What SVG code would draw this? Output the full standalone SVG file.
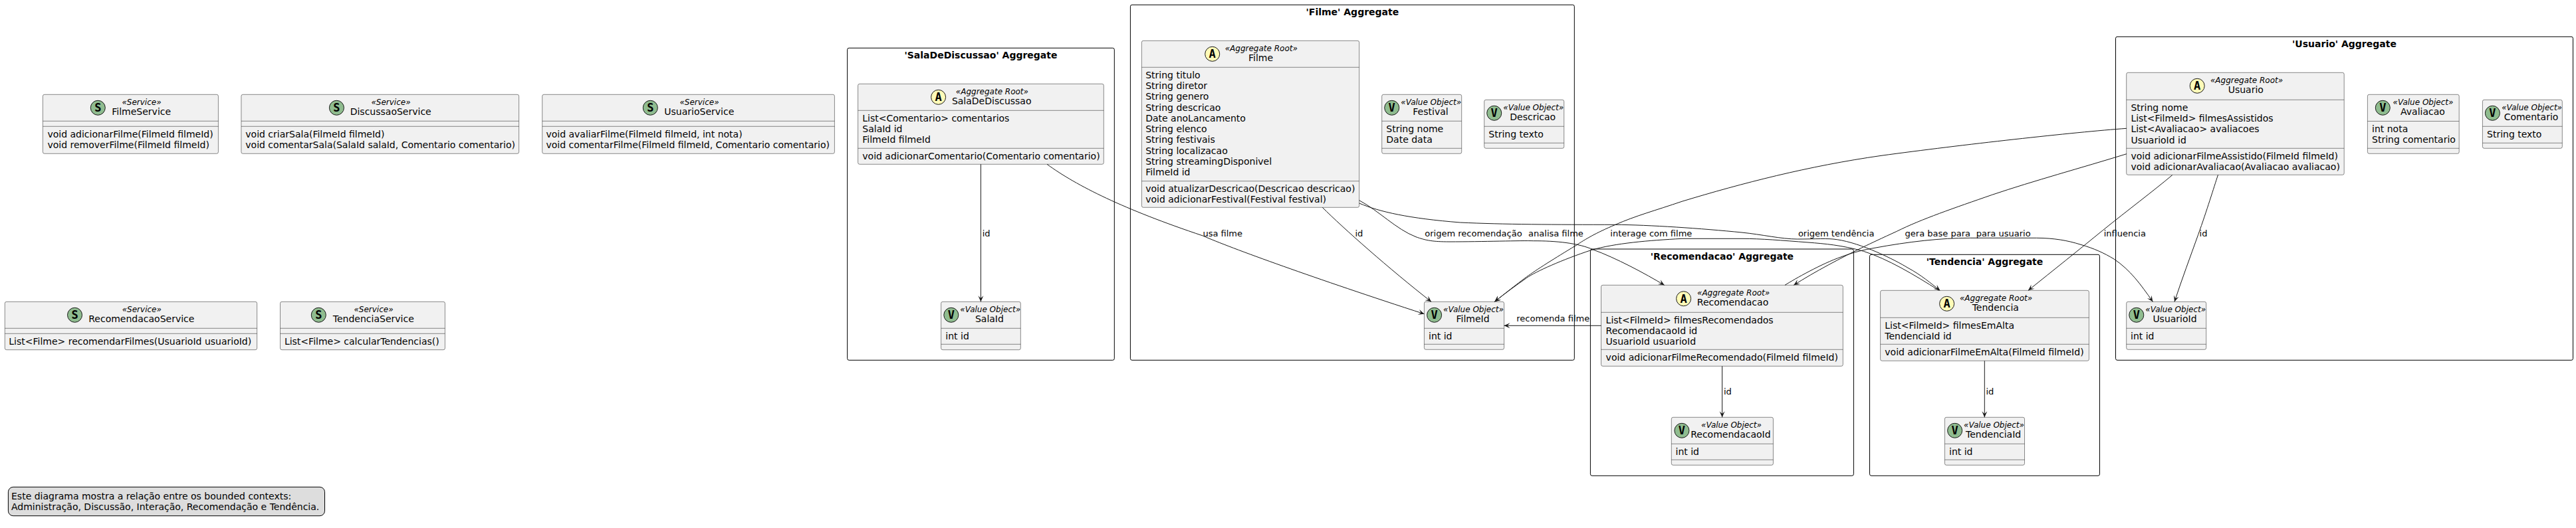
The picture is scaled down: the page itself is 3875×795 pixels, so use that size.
<svg xmlns="http://www.w3.org/2000/svg" width="3875" height="795" viewBox="0 0 3875 795">
<style>
text{font-family:"DejaVu Sans",sans-serif;fill:#000}
.b{fill:#F1F1F1;stroke:#181818;stroke-width:.5}
.d{stroke:#181818;stroke-width:.5}
.t{font-size:14px}
.s{font-size:12px;font-style:italic;text-anchor:middle}
.n{font-size:14px;text-anchor:middle}
.g{fill:#8FBC8F;stroke:#181818;stroke-width:1}
.y{fill:#FFFBB8;stroke:#181818;stroke-width:1}
.l{font-family:"DejaVu Sans Mono",monospace;font-weight:bold;font-size:17px;text-anchor:middle}
.f{fill:none;stroke:#000;stroke-width:1}
.h{font-size:14px;font-weight:bold;text-anchor:middle}
.e{fill:none;stroke:#181818;stroke-width:1;marker-end:url(#arr)}
.k{font-size:13px}
</style>
<defs>
<marker id="arr" markerUnits="userSpaceOnUse" markerWidth="12" markerHeight="12" refX="10" refY="6" orient="auto">
<path d="M10 6 L1 2 L5 6 L1 10 Z" fill="#181818"/>
</marker>
</defs>
<rect width="3875" height="795" fill="#fff"/>

<g id="frame-sala"><rect class="f" x="1274.6" y="72.3" width="401.7" height="470" rx="2.5"/><text class="h" x="1475.5" y="88">'SalaDeDiscussao' Aggregate</text></g>
<g id="frame-filme"><rect class="f" x="1700.4" y="7.3" width="667.9" height="535" rx="2.5"/><text class="h" x="2034.4" y="23.3">'Filme' Aggregate</text></g>
<g id="frame-recomendacao"><rect class="f" x="2392.4" y="375" width="396" height="341.3" rx="2.5"/><text class="h" x="2590.4" y="391">'Recomendacao' Aggregate</text></g>
<g id="frame-tendencia"><rect class="f" x="2812.5" y="383.3" width="346" height="333" rx="2.5"/><text class="h" x="2985.5" y="399.3">'Tendencia' Aggregate</text></g>
<g id="frame-usuario"><rect class="f" x="3182.5" y="55.3" width="688" height="487" rx="2.5"/><text class="h" x="3526.5" y="71.3">'Usuario' Aggregate</text></g>

<g id="FilmeService">
<rect class="b" x="64.4" y="142.3" width="264" height="89" rx="2.5"/>
<path class="d" d="M64.4 182.3H328.4M64.4 190.3H328.4"/>
<ellipse class="g" cx="147.3" cy="162.3" rx="11" ry="11"/><text class="l" x="147.3" y="168.3">S</text>
<text class="s" x="213" y="158.1">«Service»</text><text class="n" x="212.7" y="173.3">FilmeService</text>
<text class="t" x="71.4" y="206.6">void adicionarFilme(FilmeId filmeId)</text>
<text class="t" x="71.4" y="222.9">void removerFilme(FilmeId filmeId)</text>
</g>
<g id="DiscussaoService">
<rect class="b" x="362.9" y="142.3" width="417.7" height="89" rx="2.5"/>
<path class="d" d="M362.9 182.3H780.6M362.9 190.3H780.6"/>
<ellipse class="g" cx="506.4" cy="162.3" rx="11" ry="11"/><text class="l" x="506.4" y="168.3">S</text>
<text class="s" x="588" y="158.1">«Service»</text><text class="n" x="587.7" y="173.3">DiscussaoService</text>
<text class="t" x="369.3" y="206.6">void criarSala(FilmeId filmeId)</text>
<text class="t" x="369.3" y="222.9">void comentarSala(SalaId salaId, Comentario comentario)</text>
</g>
<g id="UsuarioService">
<rect class="b" x="815.7" y="142.3" width="439.7" height="89" rx="2.5"/>
<path class="d" d="M815.7 182.3H1255.4M815.7 190.3H1255.4"/>
<ellipse class="g" cx="978.3" cy="162.3" rx="11" ry="11"/><text class="l" x="978.3" y="168.3">S</text>
<text class="s" x="1052" y="158.1">«Service»</text><text class="n" x="1051.8" y="173.3">UsuarioService</text>
<text class="t" x="821.4" y="206.6">void avaliarFilme(FilmeId filmeId, int nota)</text>
<text class="t" x="821.4" y="222.9">void comentarFilme(FilmeId filmeId, Comentario comentario)</text>
</g>
<g id="RecomendacaoService">
<rect class="b" x="7.3" y="454.3" width="379.3" height="72.4" rx="2.5"/>
<path class="d" d="M7.3 494.3H386.6M7.3 502.3H386.6"/>
<ellipse class="g" cx="112.5" cy="474.3" rx="11" ry="11"/><text class="l" x="112.5" y="480.3">S</text>
<text class="s" x="213.3" y="470.1">«Service»</text><text class="n" x="212.8" y="485.3">RecomendacaoService</text>
<text class="t" x="13.3" y="518.6">List&lt;Filme&gt; recomendarFilmes(UsuarioId usuarioId)</text>
</g>
<g id="TendenciaService">
<rect class="b" x="421.5" y="454.3" width="247.9" height="72.4" rx="2.5"/>
<path class="d" d="M421.5 494.3H669.4M421.5 502.3H669.4"/>
<ellipse class="g" cx="479.3" cy="474.3" rx="11" ry="11"/><text class="l" x="479.3" y="480.3">S</text>
<text class="s" x="562" y="470.1">«Service»</text><text class="n" x="561.8" y="485.3">TendenciaService</text>
<text class="t" x="427.9" y="518.6">List&lt;Filme&gt; calcularTendencias()</text>
</g>

<g id="SalaDeDiscussao">
<rect class="b" x="1290.6" y="126.3" width="369.7" height="121" rx="2.5"/>
<path class="d" d="M1290.6 166.3H1660.3M1290.6 223.3H1660.3"/>
<ellipse class="y" cx="1411.6" cy="146.3" rx="11" ry="11"/><text class="l" x="1411.6" y="152.3">A</text>
<text class="s" x="1492.4" y="142.1">«Aggregate Root»</text><text class="n" x="1491.7" y="157.3">SalaDeDiscussao</text>
<text class="t" x="1297.3" y="182.6">List&lt;Comentario&gt; comentarios</text>
<text class="t" x="1297.3" y="198.9">SalaId id</text>
<text class="t" x="1297.3" y="215.2">FilmeId filmeId</text>
<text class="t" x="1297.3" y="239.6">void adicionarComentario(Comentario comentario)</text>
</g>
<g id="SalaId">
<rect class="b" x="1415.6" y="454.3" width="119.7" height="72.4" rx="2.5"/>
<path class="d" d="M1415.6 494.3H1535.3M1415.6 518.3H1535.3"/>
<ellipse class="g" cx="1430.8" cy="474.3" rx="11" ry="11"/><text class="l" x="1430.8" y="480.3">V</text>
<text class="s" x="1489.7" y="470.1">«Value Object»</text><text class="n" x="1488.4" y="485.3">SalaId</text>
<text class="t" x="1422.3" y="510.6">int id</text>
</g>

<g id="Filme">
<rect class="b" x="1717.4" y="61.3" width="327.2" height="251" rx="2.5"/>
<path class="d" d="M1717.4 101.3H2044.6M1717.4 272.7H2044.6"/>
<ellipse class="y" cx="1823.7" cy="81.3" rx="11" ry="11"/><text class="l" x="1823.7" y="87.3">A</text>
<text class="s" x="1897.3" y="77.1">«Aggregate Root»</text><text class="n" x="1896.6" y="92.3">Filme</text>
<text class="t" x="1723.2" y="117.6">String titulo</text>
<text class="t" x="1723.2" y="133.9">String diretor</text>
<text class="t" x="1723.2" y="150.2">String genero</text>
<text class="t" x="1723.2" y="166.5">String descricao</text>
<text class="t" x="1723.2" y="182.8">Date anoLancamento</text>
<text class="t" x="1723.2" y="199.1">String elenco</text>
<text class="t" x="1723.2" y="215.4">String festivais</text>
<text class="t" x="1723.2" y="231.7">String localizacao</text>
<text class="t" x="1723.2" y="248">String streamingDisponivel</text>
<text class="t" x="1723.2" y="264.3">FilmeId id</text>
<text class="t" x="1723.2" y="289">void atualizarDescricao(Descricao descricao)</text>
<text class="t" x="1723.2" y="305.3">void adicionarFestival(Festival festival)</text>
</g>
<g id="Festival">
<rect class="b" x="2078.7" y="142.3" width="120" height="89" rx="2.5"/>
<path class="d" d="M2078.7 182.3H2198.7M2078.7 223.3H2198.7"/>
<ellipse class="g" cx="2093.7" cy="162.3" rx="11" ry="11"/><text class="l" x="2093.7" y="168.3">V</text>
<text class="s" x="2152.7" y="158.1">«Value Object»</text><text class="n" x="2152" y="173.3">Festival</text>
<text class="t" x="2085.3" y="198.9">String nome</text>
<text class="t" x="2085.3" y="215.2">Date data</text>
</g>
<g id="Descricao">
<rect class="b" x="2232.7" y="150.3" width="120" height="73" rx="2.5"/>
<path class="d" d="M2232.7 190.3H2352.7M2232.7 215.3H2352.7"/>
<ellipse class="g" cx="2247.7" cy="170.3" rx="11" ry="11"/><text class="l" x="2247.7" y="176.3">V</text>
<text class="s" x="2306.7" y="166.1">«Value Object»</text><text class="n" x="2305.7" y="181.3">Descricao</text>
<text class="t" x="2239.3" y="206.6">String texto</text>
</g>
<g id="FilmeId">
<rect class="b" x="2142.4" y="454.3" width="120.1" height="72" rx="2.5"/>
<path class="d" d="M2142.4 494.3H2262.5M2142.4 518.3H2262.5"/>
<ellipse class="g" cx="2157.6" cy="474.3" rx="11" ry="11"/><text class="l" x="2157.6" y="480.3">V</text>
<text class="s" x="2216.5" y="470.1">«Value Object»</text><text class="n" x="2215.6" y="485.3">FilmeId</text>
<text class="t" x="2149" y="510.6">int id</text>
</g>

<g id="Recomendacao">
<rect class="b" x="2408.5" y="429.3" width="363.8" height="122" rx="2.5"/>
<path class="d" d="M2408.5 470.3H2772.3M2408.5 526.3H2772.3"/>
<ellipse class="y" cx="2532.6" cy="449.7" rx="11" ry="11"/><text class="l" x="2532.6" y="455.7">A</text>
<text class="s" x="2607.6" y="445.1">«Aggregate Root»</text><text class="n" x="2606.5" y="460.3">Recomendacao</text>
<text class="t" x="2415.6" y="486.6">List&lt;FilmeId&gt; filmesRecomendados</text>
<text class="t" x="2415.6" y="502.9">RecomendacaoId id</text>
<text class="t" x="2415.6" y="519.2">UsuarioId usuarioId</text>
<text class="t" x="2415.6" y="542.6">void adicionarFilmeRecomendado(FilmeId filmeId)</text>
</g>
<g id="RecomendacaoId">
<rect class="b" x="2514.3" y="628.3" width="153.1" height="72" rx="2.5"/>
<path class="d" d="M2514.3 668.3H2667.4M2514.3 692.3H2667.4"/>
<ellipse class="g" cx="2529.9" cy="648.3" rx="11" ry="11"/><text class="l" x="2529.9" y="654.3">V</text>
<text class="s" x="2604.5" y="644.1">«Value Object»</text><text class="n" x="2603.4" y="659.3">RecomendacaoId</text>
<text class="t" x="2520.5" y="684.6">int id</text>
</g>
<g id="Tendencia">
<rect class="b" x="2828.6" y="437.3" width="313.8" height="106" rx="2.5"/>
<path class="d" d="M2828.6 478.3H3142.4M2828.6 518.3H3142.4"/>
<ellipse class="y" cx="2928.6" cy="457.3" rx="11" ry="11"/><text class="l" x="2928.6" y="463.3">A</text>
<text class="s" x="3002.5" y="453.1">«Aggregate Root»</text><text class="n" x="3001.8" y="468.3">Tendencia</text>
<text class="t" x="2835.3" y="494.6">List&lt;FilmeId&gt; filmesEmAlta</text>
<text class="t" x="2835.3" y="510.9">TendenciaId id</text>
<text class="t" x="2835.3" y="534.6">void adicionarFilmeEmAlta(FilmeId filmeId)</text>
</g>
<g id="TendenciaId">
<rect class="b" x="2925.4" y="628.3" width="120.1" height="72" rx="2.5"/>
<path class="d" d="M2925.4 668.3H3045.5M2925.4 692.3H3045.5"/>
<ellipse class="g" cx="2940.6" cy="648.3" rx="11" ry="11"/><text class="l" x="2940.6" y="654.3">V</text>
<text class="s" x="2999.5" y="644.1">«Value Object»</text><text class="n" x="2998.6" y="659.3">TendenciaId</text>
<text class="t" x="2932" y="684.6">int id</text>
</g>

<g id="Usuario">
<rect class="b" x="3198.7" y="109.3" width="327.5" height="154" rx="2.5"/>
<path class="d" d="M3198.7 150.3H3526.2M3198.7 223.3H3526.2"/>
<ellipse class="y" cx="3305.2" cy="129.3" rx="11" ry="11"/><text class="l" x="3305.2" y="135.3">A</text>
<text class="s" x="3379.5" y="125.1">«Aggregate Root»</text><text class="n" x="3378.3" y="140.3">Usuario</text>
<text class="t" x="3205.4" y="166.6">String nome</text>
<text class="t" x="3205.4" y="182.9">List&lt;FilmeId&gt; filmesAssistidos</text>
<text class="t" x="3205.4" y="199.2">List&lt;Avaliacao&gt; avaliacoes</text>
<text class="t" x="3205.4" y="215.5">UsuarioId id</text>
<text class="t" x="3205.4" y="239.6">void adicionarFilmeAssistido(FilmeId filmeId)</text>
<text class="t" x="3205.4" y="255.9">void adicionarAvaliacao(Avaliacao avaliacao)</text>
</g>
<g id="Avaliacao">
<rect class="b" x="3561.4" y="142.3" width="137.8" height="89" rx="2.5"/>
<path class="d" d="M3561.4 182.5H3699.2M3561.4 223.3H3699.2"/>
<ellipse class="g" cx="3584.3" cy="162.3" rx="11" ry="11"/><text class="l" x="3584.3" y="168.3">V</text>
<text class="s" x="3645" y="158.1">«Value Object»</text><text class="n" x="3644.5" y="173.3">Avaliacao</text>
<text class="t" x="3568" y="198.9">int nota</text>
<text class="t" x="3568" y="215.2">String comentario</text>
</g>
<g id="Comentario">
<rect class="b" x="3734.4" y="150.3" width="119.9" height="73" rx="2.5"/>
<path class="d" d="M3734.4 190.3H3854.3M3734.4 215.3H3854.3"/>
<ellipse class="g" cx="3749.4" cy="170.3" rx="11" ry="11"/><text class="l" x="3749.4" y="176.3">V</text>
<text class="s" x="3808.6" y="166.1">«Value Object»</text><text class="n" x="3807.5" y="181.3">Comentario</text>
<text class="t" x="3741" y="206.6">String texto</text>
</g>
<g id="UsuarioId">
<rect class="b" x="3198.7" y="454.3" width="120" height="72" rx="2.5"/>
<path class="d" d="M3198.7 494.3H3318.7M3198.7 518.3H3318.7"/>
<ellipse class="g" cx="3213.8" cy="474.3" rx="11" ry="11"/><text class="l" x="3213.8" y="480.3">V</text>
<text class="s" x="3272.7" y="470.1">«Value Object»</text><text class="n" x="3271.5" y="485.3">UsuarioId</text>
<text class="t" x="3205" y="510.6">int id</text>
</g>

<g id="note">
<rect x="12.4" y="733.3" width="476.1" height="43.4" rx="7.5" fill="#DDDDDD" stroke="#000" stroke-width="1"/>
<text class="t" x="17" y="751.7">Este diagrama mostra a relação entre os bounded contexts:</text>
<text class="t" x="17" y="768">Administração, Discussão, Interação, Recomendação e Tendência.</text>
</g>

<g id="connectors">
<path class="e" d="M1475.4 247.3V454.3"/>
<text class="k" x="1477.7" y="356">id</text>
<path class="e" d="M1575 247.3C1620 280 1690 315 1809.4 355C1850 373 1980 420 2142.4 472.7"/>
<text class="k" x="1809.4" y="356">usa filme</text>
<path class="e" d="M1989.3 312.3C2020 343 2090 405 2153 454.3"/>
<text class="k" x="2038.4" y="356">id</text>
<path class="e" d="M2044.7 301.7C2075 318 2100 345 2130 356.7C2145 362 2155 364 2180 364C2230 364 2290 362 2306.7 362.7C2340 362.5 2375 366 2396.7 376C2430 388 2475 412 2503.6 429.3"/>
<text class="k" x="2143.3" y="356">origem recomendação</text>
<path class="e" d="M2044.7 306C2075 319 2120 329 2196.7 335C2260 338 2340 338.3 2430 338.3C2480 338.5 2560 344 2620 350C2650 353 2680 360 2703.3 360C2730 360 2750 358.5 2763.3 360.7C2800 366 2850 391 2870 403.3C2890 414 2905 427 2918.3 437.3"/>
<text class="k" x="2704.9" y="356">origem tendência</text>
<path class="e" d="M2916.7 437.3C2880 414 2840 390 2803.3 378.3C2770 369 2745 367 2720 365C2680 362 2650 359.3 2620 359.3L2530 359.3C2480 362 2430 366 2393.3 376.7C2350 391 2310 409 2296.7 418.3C2280 430 2265 441 2248.3 454.3"/>
<text class="k" x="2299.1" y="356">analisa filme</text>
<path class="e" d="M3199 193.3C3120 199 2950 218 2830 234.3C2720 250 2620 276 2530 303.3C2490 317 2460 325 2430 338.3C2400 351 2385 360 2370 370C2340 388 2310 407 2296.7 416.7C2280 429 2265 441 2248.3 454.3"/>
<text class="k" x="2422.3" y="356">interage com filme</text>
<path class="e" d="M2408.5 490.3H2262.5"/>
<text class="k" x="2281.3" y="484">recomenda filme</text>
<path class="e" d="M3199 231.7C3130 253 3060 272 2996.7 293.3C2940 313 2890 330 2853.3 348.3C2830 359 2815 366 2803.3 371.7C2770 388 2730 409 2698.3 429.3"/>
<text class="k" x="2865.6" y="356">gera base para</text>
<path class="e" d="M2685 429.3C2700 420 2740 397 2770 386.7C2790 379 2805 376 2820 373.3C2870 364 2920 358.3 2963.3 358.3L3063.3 358.3C3090 358.5 3110 362 3130 368.3C3150 374 3165 381 3180 390C3205 407 3220 428 3238.4 454.3"/>
<text class="k" x="2972.8" y="356">para usuario</text>
<path class="e" d="M3267.8 263.5C3240 287 3200 317 3163.3 346.7C3125 378 3090 406 3051 437.3"/>
<text class="k" x="3164.7" y="356">influencia</text>
<path class="e" d="M3336.5 263.3C3330 283 3320 316 3306.7 353.3C3295 386 3282 421 3271 454.3"/>
<text class="k" x="3308.6" y="356">id</text>
<path class="e" d="M2590.6 551.3V628.3"/>
<text class="k" x="2593" y="594">id</text>
<path class="e" d="M2985.3 543.3V628.3"/>
<text class="k" x="2987.5" y="594">id</text>
</g>
</svg>
